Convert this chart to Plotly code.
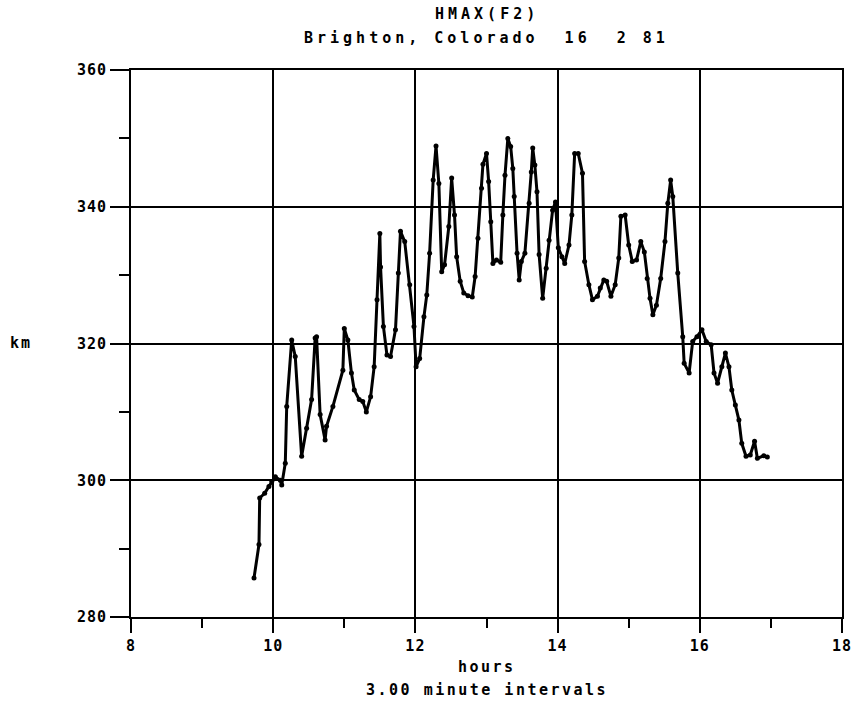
import plotly.graph_objects as go

# ---- data (hours, km) ----
hours = [
    9.73, 9.80, 9.81, 9.88, 9.94, 9.98, 10.03, 10.10, 10.12, 10.17, 10.19, 10.26, 10.31,
    10.40, 10.47, 10.54, 10.59, 10.61, 10.66, 10.73, 10.75, 10.84, 10.98, 11.00, 11.05,
    11.10, 11.14, 11.21, 11.26, 11.31, 11.37, 11.42, 11.46, 11.50, 11.51, 11.55, 11.60,
    11.65, 11.72, 11.76, 11.79, 11.85, 11.92, 11.98, 12.01, 12.06, 12.12, 12.16, 12.20,
    12.25, 12.29, 12.33, 12.37, 12.41, 12.47,
    12.51, 12.55, 12.58, 12.63, 12.68, 12.74, 12.80, 12.84, 12.88, 12.93, 12.95, 13.00,
    13.03, 13.06, 13.09, 13.14, 13.20, 13.23, 13.26, 13.30, 13.34, 13.37, 13.39, 13.43,
    13.46, 13.49, 13.54, 13.60, 13.63, 13.65, 13.68, 13.71, 13.74, 13.79, 13.84, 13.88,
    13.93, 13.97,
    14.01, 14.06, 14.10, 14.16, 14.20, 14.24, 14.29, 14.35, 14.38, 14.44, 14.49, 14.56,
    14.60, 14.65, 14.69, 14.75, 14.81, 14.86, 14.89, 14.95, 15.00, 15.05, 15.11, 15.17,
    15.22, 15.26, 15.30, 15.34, 15.39, 15.45,
    15.51, 15.55, 15.59, 15.62, 15.69, 15.76, 15.78, 15.85, 15.90, 15.96, 16.03, 16.09,
    16.16, 16.20, 16.25, 16.31, 16.36, 16.41, 16.45, 16.50, 16.55, 16.59, 16.65, 16.71,
    16.77, 16.81, 16.90, 16.95,
]
hmax_km = [
    285.7, 290.6, 297.4, 298.1, 299.1, 299.8, 300.5, 300.0, 299.3, 302.5, 310.8, 320.5, 318.1,
    303.5, 307.6, 311.8, 320.8, 321.0, 309.6, 305.9, 307.9, 310.8, 316.1, 322.2, 320.5,
    315.7, 313.2, 311.8, 311.5, 310.0, 312.2, 316.6, 326.4, 336.1, 331.2, 322.5, 318.3,
    318.1, 322.0, 330.3, 336.4, 334.9, 328.6, 322.5, 316.6, 317.8, 323.9, 327.1, 333.2,
    343.9, 348.9, 343.4, 330.5, 331.5, 337.1,
    344.2, 338.8, 332.7, 329.1, 327.4, 327.0, 326.8, 329.8, 335.4, 342.7, 346.2, 347.8,
    343.7, 337.8, 331.7, 332.2, 331.9, 338.8, 344.6, 350.0, 348.8, 345.6, 341.5, 333.2,
    329.3, 332.0, 333.2, 340.5, 345.1, 348.6, 346.1, 342.2, 333.0, 326.6, 331.0, 335.1,
    339.5, 340.7,
    334.0, 332.7, 331.7, 334.4, 338.8, 347.8, 347.8, 344.9, 332.0, 328.6, 326.4, 326.9,
    328.1, 329.3, 329.1, 326.9, 328.6, 332.5, 338.6, 338.8, 334.4, 332.0, 332.2, 334.9,
    333.4, 329.5, 326.6, 324.2, 325.6, 329.5,
    334.9, 340.5, 343.9, 341.5, 330.3, 321.0, 317.1, 315.7, 320.3, 321.0, 322.0, 320.3,
    319.8, 315.7, 314.2, 316.6, 318.6, 316.6, 313.2, 311.0, 308.8, 305.4, 303.5, 303.7,
    305.7, 303.2, 303.6, 303.4,
]

x_ticks = [8, 10, 12, 14, 16, 18]
x_tick_labels = ["8", "10", "12", "14", "16", "18"]
x_minor = [9, 11, 13, 15, 17]
y_ticks = [280, 300, 320, 340, 360]
y_tick_labels = ["280", "300", "320", "340", "360"]
y_minor = [290, 310, 330, 350]

title_1 = "HMAX(F2)"
title_2 = "Brighton, Colorado  16  2 81"
x_title = "hours"
x_note = "3.00 minute intervals"
y_title = "km"

FONT = "DejaVu Sans Mono"


def sp(text, ls):
    return '<b><span style="letter-spacing:%spx">%s</span></b>' % (ls, text.replace(" ", "&nbsp;"))


fig = go.Figure()
fig.add_trace(go.Scatter(
    x=hours, y=hmax_km, mode="lines+markers",
    line=dict(color="black", width=3),
    marker=dict(color="black", size=5),
    showlegend=False, hoverinfo="skip",
))

axis_common = dict(
    showgrid=True, gridcolor="black", gridwidth=2,
    showline=True, linecolor="black", linewidth=2, mirror=True,
    ticks="outside", tickcolor="black", tickwidth=2,
    zeroline=False,
    tickfont=dict(family=FONT, size=15, color="black"),
)

fig.update_xaxes(
    range=[8, 18], tickvals=x_ticks, ticktext=[sp(t, 1) for t in x_tick_labels],
    ticklen=14,
    minor=dict(tickvals=x_minor, ticks="outside", ticklen=9, tickwidth=2,
               tickcolor="black", showgrid=False),
    **axis_common,
)
fig.update_yaxes(
    range=[280, 360], tickvals=y_ticks, ticktext=[sp(t, 1) for t in y_tick_labels],
    ticklen=19,
    minor=dict(tickvals=y_minor, ticks="outside", ticklen=10, tickwidth=2,
               tickcolor="black", showgrid=False),
    **axis_common,
)

ann_font = dict(family=FONT, size=15, color="black")
annotations = [
    dict(text=sp(title_1, 4), x=0.5, y=1.102, xref="paper", yref="paper",
         showarrow=False, font=ann_font, xanchor="center", yanchor="middle"),
    dict(text=sp(title_2, 4), x=0.5, y=1.058, xref="paper", yref="paper",
         showarrow=False, font=ann_font, xanchor="center", yanchor="middle"),
    dict(text=sp(x_title, 2.5), x=0.5, y=-0.0914, xref="paper", yref="paper",
         showarrow=False, font=ann_font, xanchor="center", yanchor="middle"),
    dict(text=sp(x_note, 2.5), x=0.5, y=-0.1335, xref="paper", yref="paper",
         showarrow=False, font=ann_font, xanchor="center", yanchor="middle"),
    dict(text=sp(y_title, 2), x=-0.155, y=0.501, xref="paper", yref="paper",
         showarrow=False, font=ann_font, xanchor="center", yanchor="middle"),
]

fig.update_layout(
    width=864, height=719,
    margin=dict(l=131, r=16, t=70, b=102),
    paper_bgcolor="white", plot_bgcolor="white",
    annotations=annotations,
    font=dict(family=FONT, color="black"),
)

fig.write_html("out.html")
